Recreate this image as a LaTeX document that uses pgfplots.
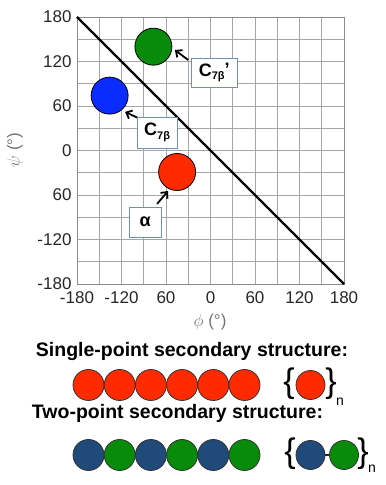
\documentclass[border=0pt]{standalone}
\usepackage{fontspec}
\setmainfont{Liberation Sans}
\usepackage{pgfplots}
\pgfplotsset{compat=1.18}
\usetikzlibrary{arrows.meta}
\definecolor{cred}{HTML}{FF2A00}
\definecolor{cgreen}{HTML}{088A0A}
\definecolor{cblue}{HTML}{0A2CFF}
\definecolor{cnavy}{HTML}{1F4A7A}
\definecolor{boxc}{HTML}{6E8FB8}
\newcommand{\fs}[1]{\fontsize{#1}{#1}\selectfont}
\begin{document}
\begin{tikzpicture}
\useasboundingbox (0,0) rectangle (386bp,485bp);
\begin{axis}[
  at={(77bp,201bp)}, anchor=south west,
  scale only axis, width=267bp, height=267bp,
  xmin=-180, xmax=180, ymin=-180, ymax=180,
  xtick={-180,-120,-60,0,60,120,180},
  ytick={-180,-120,-60,0,60,120,180},
  xticklabels={-180,-120,60,0,60,120,180},
  yticklabels={-180,-120,60,0,60,120,180},
  minor xtick={-150,-90,-30,30,90,150},
  minor ytick={-150,-90,-30,30,90,150},
  grid=both,
  grid style={draw=black!35, line width=0.6bp},
  minor grid style={draw=black!35, line width=0.6bp},
  major tick length=0pt, minor tick length=0pt,
  axis line style={draw=black!45, line width=0.6bp},
  tick label style={font=\fs{17bp}, text=black!85},
  xticklabel style={yshift=-4bp},
  yticklabel style={xshift=-2bp},
  clip=false,
]
\addplot[black, line width=2.2bp] coordinates {(-180,180) (180,-180)};
\addplot[only marks, mark=*, mark size=18.5bp, mark options={fill=cgreen, draw=black, line width=0.8bp}] coordinates {(-77,140)};
\addplot[only marks, mark=*, mark size=18.5bp, mark options={fill=cblue, draw=black, line width=0.8bp}] coordinates {(-136,74)};
\addplot[only marks, mark=*, mark size=18.5bp, mark options={fill=cred, draw=black, line width=0.8bp}] coordinates {(-45,-29)};
\draw[-{Straight Barb[length=5bp,width=9bp]}, line width=1.8bp] (axis cs:-30,122) -- (axis cs:-48,135.5);
\draw[-{Straight Barb[length=5bp,width=9bp]}, line width=1.8bp] (axis cs:-97.6,43.8) -- (axis cs:-115.2,52);
\draw[-{Straight Barb[length=5bp,width=9bp]}, line width=1.8bp] (axis cs:-72,-72) -- (axis cs:-57.2,-54.6);
\node[draw=boxc, fill=white, line width=0.8bp, minimum width=46bp, minimum height=29bp, inner sep=1bp, font=\fs{18bp}\bfseries] at (axis cs:5,105.2) {C\raisebox{-3.5bp}{\fs{11bp}\bfseries 7β}\raisebox{1bp}{’}};
\node[draw=boxc, fill=white, line width=0.8bp, minimum width=40bp, minimum height=31bp, inner sep=1bp, font=\fs{18bp}\bfseries] at (axis cs:-72,24.3) {C\raisebox{-3.5bp}{\fs{11bp}\bfseries 7β}};
\node[draw=boxc, fill=white, line width=0.8bp, minimum width=32bp, minimum height=30bp, inner sep=1bp, font=\fs{18bp}\bfseries] at (axis cs:-88.2,-96.3) {α};
\end{axis}
\node[text=black!55, font=\fs{17bp}] at (210bp,163bp) {$\phi$ (°)};
\node[text=black!55, font=\fs{17bp}, rotate=90] at (15bp,335bp) {$\psi$ (°)};
\begin{axis}[
  at={(0bp,0bp)}, anchor=south west,
  scale only axis, width=386bp, height=485bp,
  xmin=0, xmax=386, ymin=0, ymax=485,
  hide axis, clip=false,
]
\addplot[black!85, line width=1.4bp, mark=*, mark size=15.5bp, mark options={fill=cred, draw=black!80, line width=0.8bp}] coordinates {(88.5,100) (119.7,100) (150.9,100) (182.1,100) (213.3,100) (244.5,100)};
\addplot[only marks, mark=*, mark size=14.5bp, mark options={fill=cred, draw=black!80, line width=0.8bp}] coordinates {(310.5,100)};
\addplot[black!85, line width=1.4bp] coordinates {(88.5,30) (244.5,30)};
\addplot[only marks, mark=*, mark size=15.5bp, mark options={fill=cnavy, draw=black!80, line width=0.8bp}] coordinates {(88.5,30) (150.9,30) (213.3,30)};
\addplot[only marks, mark=*, mark size=15.5bp, mark options={fill=cgreen, draw=black!80, line width=0.8bp}] coordinates {(119.7,30) (182.1,30) (244.5,30)};
\addplot[black!85, line width=1.4bp] coordinates {(310.5,30) (344,30)};
\addplot[only marks, mark=*, mark size=14.5bp, mark options={fill=cnavy, draw=black!80, line width=0.8bp}] coordinates {(310.5,30)};
\addplot[only marks, mark=*, mark size=14.5bp, mark options={fill=cgreen, draw=black!80, line width=0.8bp}] coordinates {(344,30)};
\end{axis}
\node[font=\fs{19.5bp}\bfseries] at (192bp,133bp) {Single-point secondary structure:};
\node[font=\fs{19.5bp}\bfseries] at (177.5bp,72bp) {Two-point secondary structure:};
\node[font=\fs{34bp}, inner sep=0pt] at (289bp,101bp) {\{};
\node[font=\fs{34bp}, inner sep=0pt] at (331bp,101bp) {\}};
\node[font=\fs{14bp}, inner sep=0pt] at (340bp,83bp) {n};
\node[font=\fs{34bp}, inner sep=0pt] at (290bp,31bp) {\{};
\node[font=\fs{34bp}, inner sep=0pt] at (363bp,31bp) {\}};
\node[font=\fs{14bp}, inner sep=0pt] at (372bp,16bp) {n};
\end{tikzpicture}
\end{document}
